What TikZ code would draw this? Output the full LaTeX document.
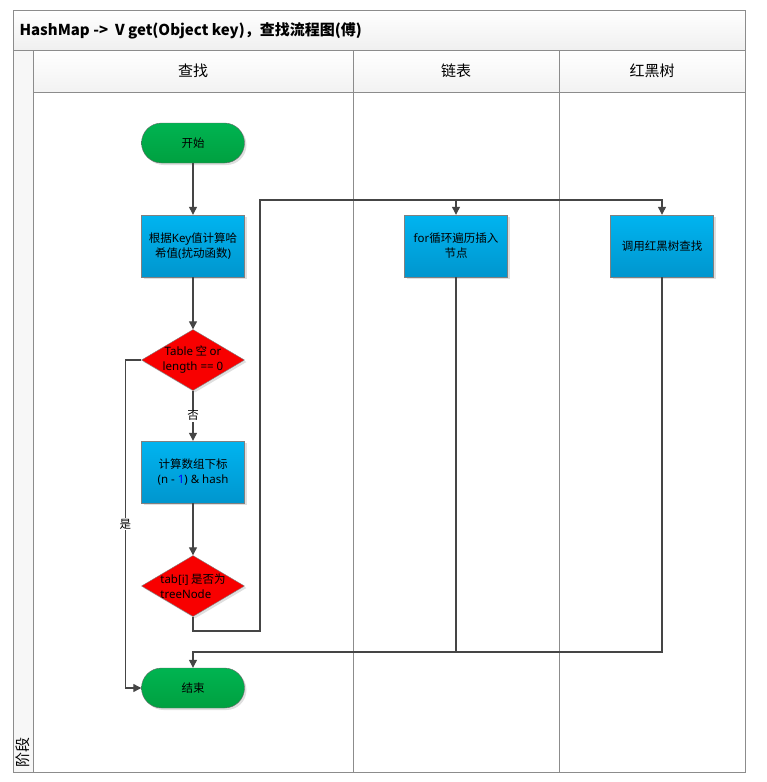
\documentclass[tikz,border=0pt]{standalone}
\usepackage{fontspec}
\setmainfont{Noto Sans CJK SC}
\newfontfamily\lat{Noto Sans}
\usetikzlibrary{shapes.geometric,arrows.meta,shadows}
\definecolor{lanegray}{HTML}{8C8C8C}
\definecolor{linegray}{HTML}{454545}
\definecolor{greentop}{HTML}{00B451}
\definecolor{greenbot}{HTML}{00A040}
\definecolor{bluetop}{HTML}{00B4F0}
\definecolor{bluebot}{HTML}{0096CE}
\definecolor{redfill}{HTML}{F80000}

\begin{document}
\begin{tikzpicture}[x=1pt,y=-1pt]
        \tikzstyle{every node}=[font=\fontsize{11.5}{15}\selectfont, text=black]
        \tikzstyle{lane}=[draw=lanegray, line width=1pt]
        \tikzstyle{header}=[font=\fontsize{15}{17}\selectfont]
        \tikzstyle{terminal}=[draw=linegray!80, rounded corners=20pt, minimum width=103pt, minimum height=40pt, top color=greentop, bottom color=greenbot, drop shadow={opacity=0.25, shadow xshift=2pt, shadow yshift=-2pt}]
        \tikzstyle{process}=[draw=gray, minimum width=103pt, minimum height=62pt, align=center, top color=bluetop, bottom color=bluebot, drop shadow={opacity=0.25, shadow xshift=2pt, shadow yshift=-2pt}]
        \tikzstyle{decision}=[draw=gray, diamond, inner sep=0pt, aspect=1.69, minimum width=103pt, minimum height=61pt, fill=redfill, drop shadow={opacity=0.25, shadow xshift=2pt, shadow yshift=-2pt}]
        \tikzstyle{dtext}=[align=center, inner sep=0pt]
        \tikzstyle{line}=[draw=linegray, line width=1.2pt]
        \tikzstyle{arr}=[line, -{Triangle[width=8pt,length=8pt]}]

        \useasboundingbox (0,0) rectangle (766,782);

        \fill[top color=white, bottom color=gray!12] (13,10) rectangle (745,50);
        \fill[top color=white, bottom color=gray!10] (33,50) rectangle (745,92);
        \fill[gray!6] (13,50) rectangle (33,772);
        \draw[lane] (13,10) rectangle (745,772);
        \draw[lane] (13,50) -- (745,50);
        \draw[lane] (33,92) -- (745,92);
        \draw[lane] (33,50) -- (33,772);
        \draw[lane] (353,50) -- (353,772);
        \draw[lane] (559,50) -- (559,772);

        \node[anchor=west, font=\bfseries\fontsize{15}{17}\selectfont](title)at(16,31){HashMap ->\ \ V get(Object key)，查找流程图(傅)};
        \node[header](h1)at(193,71){查找};
        \node[header](h2)at(456,71){链表};
        \node[header](h3)at(652,71){红黑树};
        \node[header, rotate=90](stage)at(23,752){阶段};

        \node[terminal](start)at(193,143){开始};
        \node[process](hash)at(193,246){根据{\lat Key}值计算哈\\希值{\lat(}扰动函数{\lat)}};
        \node[decision, label={[dtext]center:{\lat Table} 空 {\lat or}\\{\lat length == 0}}](table)at(193,360){};
        \node[process](index)at(193,472){计算数组下标\\{\lat(n - \textcolor{blue}{1}) \& hash}};
        \node[decision, label={[dtext, align=left]center:{\lat tab[i]} 是否为\\{\lat treeNode}}](tree)at(193,586){};
        \node[terminal](end)at(193,688){结束};
        \node[process](list)at(456,246){{\lat for}循环遍历插入\\节点};
        \node[process](rbt)at(662,246){调用红黑树查找};

        \coordinate(turn)at(260,631);
        \coordinate(fork)at(260,200);
        \coordinate(merge)at(456,652);

        \draw[arr] (start) -- (hash);
        \draw[arr] (hash) -- (table);
        \draw[arr] (table) -- node[fill=white, inner sep=1pt]{否} (index);
        \draw[arr] (index) -- (tree);
        \draw[arr] (table.west) -- ++(-16,0) |- node[pos=0.25, fill=white, inner sep=1pt]{是} (end.west);
        \draw[arr] (tree.south) |- (turn) -- (fork) -| (list.north);
        \draw[arr] (fork) -| (rbt.north);
        \draw[arr] (list.south) -- (merge) -| (end.north);
        \draw[line] (rbt.south) |- (merge);
    \end{tikzpicture}
\end{document}
